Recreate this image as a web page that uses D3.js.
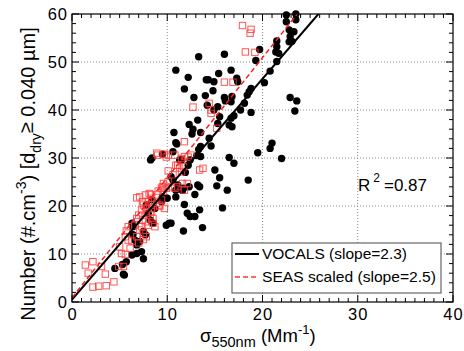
<!DOCTYPE html>
<html><head><meta charset="utf-8">
<script src="https://cdn.jsdelivr.net/npm/d3@7"></script>
<style>body{margin:0;background:#fff}svg{display:block;font-family:"Liberation Sans",Arial,sans-serif}</style>
</head><body><svg id="c" width="464" height="351"></svg>
<script>
const xTicks = [0,10,20,30,40];
const yTicks = [0,10,20,30,40,50,60];
const vocalsX = [13.3,10.9,12.2,11.8,12.8,14.1,14.0,13.2,12.3,12.7,12.6,13.5,10.7,11.0,10.6,13.3,13.1,8.4,9.5,
22.5,22.5,23.5,23.5,22.8,23.3,22.9,22.8,23.1,21.5,21.5,21.4,21.7,21.5,19.7,19.3,20.8,20.2,18.8,18.6,18.4,18.1,17.7,17.0,16.7,16.8,16.5,18.8,
16.0,16.7,15.4,14.3,14.9,17.3,17.4,14.8,16.0,16.1,16.8,16.7,14.2,15.3,14.9,15.5,15.3,14.4,14.6,13.5,13.5,
22.9,23.6,23.4,21.0,20.8,19.5,16.5,22.0,17.0,15.0,15.5,15.2,16.3,18.5,13.4,13.4,15.8,13.7,
8.25,12.4,11.5,12.2,11.9,10.4,10.6,11.1,11.7,13.2,12.9,10.0,10.9,11.8,12.4,12.9,9.9,10.4,11.7,
8.4,8.7,8.0,8.2,8.5,7.8,6.3,6.4,6.4,6.6,7.5,7.7,6.8,7.1,7.3,6.3,6.8,5.7,7.5,4.5,5.4,9.4,
10.9,11.3,11.6,9.5,12.3,11.6,10.9,12.1,10.2,5.5,5.3];
const vocalsY = [51.1,48.3,46.8,44.4,42.6,46.3,43.0,37.9,37.0,36.0,35.0,35.3,35.3,32.9,31.3,31.8,30.5,30.0,30.8,
59.8,58.4,60.0,58.8,56.7,56.3,55.3,54.2,54.3,54.4,53.2,52.1,51.8,50.1,52.6,50.3,48.1,45.7,44.5,43.8,43.1,41.4,40.0,38.8,38.3,36.5,36.9,39.5,
51.6,48.3,47.6,46.3,45.9,46.6,45.9,44.0,42.6,41.9,42.8,41.7,41.0,40.7,40.0,38.6,37.2,34.1,32.5,32.4,30.3,
42.6,41.9,39.8,33.1,32.0,31.1,30.1,29.9,28.9,27.5,25.9,24.2,23.3,25.4,24.0,19.2,19.6,15.5,
29.6,29.6,29.6,28.5,27.0,26.1,25.4,24.4,23.7,24.4,22.4,21.6,21.9,20.3,17.8,17.8,16.0,16.4,14.8,
21.3,19.5,18.5,17.1,16.4,20.2,16.4,15.7,14.0,12.9,14.7,14.0,11.9,12.6,10.5,9.8,10.1,8.4,9.0,7.0,5.8,20.9,
33.2,29.6,23.3,21.9,24.0,23.3,23.3,18.5,16.4,5.6,7.8];
const seasX = [12.7,11.8,8.9,9.9,10.8,12.2,17.9,18.8,18.7,18.2,19.2,16.0,16.9,14.4,14.6,14.6,15.2,
1.4,2.2,1.7,3.1,3.5,2.2,2.8,3.6,4.4,5.0,5.2,5.6,4.9,5.4,5.6,5.9,6.3,6.1,6.8,7.0,7.5,5.7,5.9,6.6,7.1,7.5,7.8,6.8,7.0,7.7,7.3,8.0,8.5,8.7,
7.8,8.2,8.5,8.35,7.5,7.8,8.35,8.0,7.1,7.7,8.25,8.35,6.8,8.35,8.9,9.2,9.4,8.9,9.05,9.4,9.6,9.6,10.1,10.4,10.8,11.1,10.1,10.6,11.3,11.1,11.7,
11.5,11.8,9.0,10.1,13.4,13.75,9.7,12.5,9.5,9.9,11.6,12.1,11.8,10.9,11.5,7.3,9.2,9.7,7.4,8.1,7.4];
const seasY = [40.6,33.4,31.0,30.2,30.6,30.2,57.6,56.8,56.0,52.1,52.0,45.8,45.8,41.4,40.0,39.3,36.2,
7.7,8.4,6.0,7.4,5.8,3.1,3.3,3.4,4.2,11.5,10.1,9.9,7.4,7.4,13.6,12.9,12.7,11.2,13.6,12.3,13.0,14.8,15.7,16.0,15.0,14.3,13.6,17.4,18.1,16.7,15.7,16.0,16.4,15.7,
18.5,18.1,17.4,18.8,20.2,19.5,19.6,20.9,21.9,22.3,22.4,21.6,21.7,20.3,20.6,20.2,21.25,22.3,23.1,23.7,23.1,24.7,25.1,24.0,23.7,24.0,27.3,26.5,27.9,28.5,28.2,
29.9,30.3,30.6,30.6,27.5,27.85,30.8,30.6,24.0,23.7,24.7,24.7,23.3,28.5,27.1,19.2,19.9,19.5,17.1,22.6,20.9];
const fitVocals = {slope:2.3, intercept:0.5};
const fitSeas = {slope:2.5, intercept:0.9};
const r2 = "0.87";

const svg = d3.select("#c");
const L=72,R=453,T=14,B=302;
const x = d3.scaleLinear([0,40],[L,R]);
const y = d3.scaleLinear([0,60],[B,T]);

// grid
const g = svg.append("g");
g.selectAll(".gx").data(xTicks.slice(1,-1)).enter().append("line")
 .attr("x1",d=>x(d)).attr("x2",d=>x(d)).attr("y1",T).attr("y2",B)
 .attr("stroke","#888").attr("stroke-width",1).attr("stroke-dasharray","1,2");
g.selectAll(".gy").data(yTicks.slice(1,-1)).enter().append("line")
 .attr("y1",d=>y(d)).attr("y2",d=>y(d)).attr("x1",L).attr("x2",R)
 .attr("stroke","#888").attr("stroke-width",1).attr("stroke-dasharray","1,2");

// points
svg.append("g").selectAll("circle").data(vocalsX.map((v,i)=>[v,vocalsY[i]])).enter().append("circle")
 .attr("cx",d=>x(d[0])).attr("cy",d=>y(d[1])).attr("r",3.7).attr("fill","#000");
svg.append("g").selectAll("rect").data(seasX.map((v,i)=>[v,seasY[i]])).enter().append("rect")
 .attr("x",d=>x(d[0])-3.2).attr("y",d=>y(d[1])-3.2).attr("width",6.4).attr("height",6.4)
 .attr("fill","none").attr("stroke","#ff3a3a").attr("stroke-opacity",0.85).attr("stroke-width",1);

// fit lines
svg.append("clipPath").attr("id","cp").append("rect").attr("x",L).attr("y",T).attr("width",R-L).attr("height",B-T);
function fitLine(f){ const x2=(60-f.intercept)/f.slope; return [[0,f.intercept],[x2,60]]; }
const line = d3.line().x(d=>x(d[0])).y(d=>y(d[1]));
svg.append("path").attr("d",line(fitLine(fitVocals))).attr("stroke","#000").attr("stroke-width",2).attr("fill","none").attr("clip-path","url(#cp)");
svg.append("path").attr("d",line(fitLine(fitSeas))).attr("stroke","#ff2020").attr("stroke-width",1.5).attr("stroke-dasharray","5,3").attr("fill","none").attr("clip-path","url(#cp)");

// frame & ticks
svg.append("rect").attr("x",L).attr("y",T).attr("width",R-L).attr("height",B-T).attr("fill","none").attr("stroke","#000").attr("stroke-width",1.2);
const tk = svg.append("g").attr("stroke","#000").attr("stroke-width",1);
d3.range(0,41,1).forEach(v=>{
  const len = v%10===0?7:4;
  tk.append("line").attr("x1",x(v)).attr("x2",x(v)).attr("y1",B).attr("y2",B-len);
  tk.append("line").attr("x1",x(v)).attr("x2",x(v)).attr("y1",T).attr("y2",T+len);
});
d3.range(0,61,2).forEach(v=>{
  const len = v%10===0?7:4;
  tk.append("line").attr("y1",y(v)).attr("y2",y(v)).attr("x1",L).attr("x2",L+len);
  tk.append("line").attr("y1",y(v)).attr("y2",y(v)).attr("x1",R).attr("x2",R-len);
});

// tick labels via axes
const ax = svg.append("g").attr("transform",`translate(0,${B})`).call(d3.axisBottom(x).tickValues(xTicks).tickSize(0).tickPadding(6));
ax.select(".domain").remove();
ax.selectAll("text").attr("font-size",16.5).attr("letter-spacing",1).attr("fill","#000").attr("font-family","Liberation Sans, Arial, sans-serif");
const ay = svg.append("g").attr("transform",`translate(${L},0)`).call(d3.axisLeft(y).tickValues(yTicks).tickSize(0).tickPadding(4));
ay.select(".domain").remove();
ay.selectAll("text").attr("font-size",16.5).attr("letter-spacing",1).attr("fill","#000").attr("font-family","Liberation Sans, Arial, sans-serif");

// axis titles
const xt = svg.append("text").attr("x",200).attr("y",342).attr("font-size",18.5);
xt.append("tspan").text("σ");
xt.append("tspan").attr("font-size",14.5).attr("dy",5).text("550nm");
xt.append("tspan").attr("dy",-5).text(" (Mm");
xt.append("tspan").attr("font-size",13).attr("dy",-8).text("-1");
xt.append("tspan").attr("dy",8).text(")");

const yt = svg.append("text").attr("transform","translate(35,174) rotate(-90)").attr("text-anchor","middle").attr("font-size",20);
yt.append("tspan").text("Number (#.cm");
yt.append("tspan").attr("font-size",14).attr("dy",-9).text("-3");
yt.append("tspan").attr("dy",9).text(") [d");
yt.append("tspan").attr("font-size",14).attr("dy",6).text("dry");
yt.append("tspan").attr("dy",-8).text("≥");
yt.append("tspan").attr("dy",2).text(" 0.040 µm]");

// R2
const rt = svg.append("text").attr("x",358).attr("y",191).attr("font-size",17);
rt.append("tspan").text("R");
rt.append("tspan").attr("font-size",12).attr("dy",-9).attr("dx",3).text("2");
rt.append("tspan").attr("dy",9).attr("dx",4).text("=" + r2);

// legend
const lg = svg.append("g");
lg.append("rect").attr("x",232).attr("y",243).attr("width",209).attr("height",50).attr("fill","#fff").attr("stroke","#666").attr("stroke-width",1.2);
lg.append("line").attr("x1",235).attr("x2",259).attr("y1",254).attr("y2",254).attr("stroke","#000").attr("stroke-width",2);
lg.append("line").attr("x1",235).attr("x2",259).attr("y1",277).attr("y2",277).attr("stroke","#ff3030").attr("stroke-width",1.5).attr("stroke-dasharray","5,3");
lg.append("text").attr("x",262).attr("y",259).attr("font-size",15).attr("textLength",145).attr("lengthAdjust","spacingAndGlyphs").text("VOCALS (slope=2.3)");
lg.append("text").attr("x",262).attr("y",282).attr("font-size",15).attr("textLength",174).attr("lengthAdjust","spacingAndGlyphs").text("SEAS scaled (slope=2.5)");
</script></body></html>
